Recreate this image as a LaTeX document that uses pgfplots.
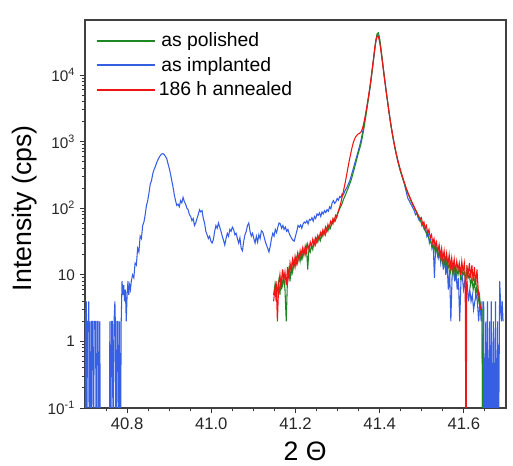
\documentclass[border=0pt]{standalone}
\usepackage{graphicx}
\usepackage{fontspec}
\setmainfont{Liberation Sans}
\usepackage{pgfplots}
\pgfplotsset{compat=1.18}
\definecolor{cgreen}{RGB}{30,135,35}
\definecolor{cblue}{RGB}{55,95,228}
\definecolor{cred}{RGB}{240,20,20}
\pgfplotsset{
  mylegimg/.style={legend image code/.code={\draw[##1] (0pt,0pt) -- (36pt,0pt); \path (0pt,0pt) -- (44pt,0pt);}},
}
\begin{document}
\begin{tikzpicture}
\begin{axis}[
  scale only axis,
  width=315.75pt, height=291pt,
  xmin=40.7, xmax=41.7,
  ymode=log, ymin=0.1, ymax=6.7e4,
  axis line style={black!75, line width=0.9pt},
  tick align=outside,
  xtick={40.8,41.0,41.2,41.4,41.6},
  minor xtick={40.75,40.85,40.9,40.95,41.05,41.1,41.15,41.25,41.3,41.35,41.45,41.5,41.55,41.65},
  xticklabels={40.8,41.0,41.2,41.4,41.6},
  ytick={0.1,1,10,100,1000,10000},
  yticklabels={10\textsuperscript{-1},1,10,10\textsuperscript{2},10\textsuperscript{3},10\textsuperscript{4}},
  xtick pos=bottom, ytick pos=left,
  major tick length=4pt, minor tick length=2.5pt,
  tick style={black!80, line width=0.7pt},
  xticklabel style={font=\fontsize{12.5}{14}\selectfont, text=black!85},
  yticklabel style={font=\fontsize{11.5}{13}\selectfont, text=black!85},
  xlabel={2 Θ},
  xlabel style={font=\fontsize{20}{24}\selectfont, at={(axis description cs:0.523,-0.111)}, anchor=center},
  ylabel={Intensity (cps)},
  ylabel style={font=\fontsize{20}{24}\selectfont, at={(axis description cs:-0.143,0.515)}, anchor=center},
  legend style={at={(axis description cs:0.015,0.982)}, anchor=north west, draw=none, fill=none,
    font=\fontsize{14.5}{16}\selectfont, row sep=2.5pt},
  legend cell align=left,
  mylegimg,
]
\addlegendimage{draw=cgreen, line width=1.4pt}
\addlegendentry{\hspace{2pt}as polished}
\addlegendimage{draw=cblue, line width=1.4pt}
\addlegendentry{\hspace{2pt}as implanted}
\addlegendimage{draw=cred, line width=1.4pt}
\addlegendentry{186 h annealed}

% as implanted
\addplot[cblue, line width=0.8pt, forget plot] table {
40.700 0.01
40.701 2
40.703 4
40.704 0.01
40.706 2
40.708 2
40.709 4
40.710 0.01
40.712 2
40.714 0.01
40.716 2
40.718 2
40.720 0.01
40.722 2
40.725 2
40.727 0.01
40.729 2
40.731 2
40.733 0.01
40.735 2
40.737 0.01
40.758 0.01
40.759 2
40.761 0.01
40.763 2
40.765 2
40.767 0.01
40.769 2
40.771 4
40.772 2
40.774 0.01
40.776 2
40.778 2
40.780 0.01
40.782 2
40.784 0.01
40.786 2
40.788 8
40.790 5
40.792 7
40.794 4
40.796 6
40.798 2
40.800 5
40.802 8
40.804 5
40.806 7
40.808 6
40.810 8
40.813 10
40.816 9
40.819 15
40.822 14
40.825 25
40.828 22
40.831 38
40.834 35
40.837 55
40.840 62
40.843 80
40.846 110
40.849 130
40.852 170
40.855 230
40.858 260
40.861 330
40.864 380
40.867 420
40.870 480
40.873 530
40.876 580
40.879 620
40.882 650
40.885 660
40.888 640
40.891 600
40.894 560
40.897 470
40.900 400
40.903 330
40.906 260
40.909 210
40.912 160
40.915 130
40.918 110
40.921 115
40.924 105
40.927 130
40.930 120
40.933 145
40.936 125
40.939 115
40.942 100
40.945 95
40.948 80
40.951 75
40.954 65
40.957 70
40.960 55
40.963 60
40.966 70
40.969 80
40.972 95
40.975 88
40.978 92
40.981 70
40.984 60
40.987 45
40.990 40
40.993 35
40.996 38
40.999 32
41.002 30
41.005 34
41.008 45
41.011 55
41.014 50
41.017 60
41.020 52
41.023 45
41.026 38
41.029 33
41.032 28
41.035 35
41.038 42
41.041 38
41.044 48
41.047 45
41.050 52
41.053 48
41.056 40
41.059 42
41.062 35
41.065 30
41.068 36
41.071 25
41.074 23
41.077 32
41.080 40
41.083 45
41.086 55
41.089 60
41.092 45
41.095 38
41.098 42
41.101 35
41.104 30
41.107 38
41.110 31
41.113 40
41.116 35
41.119 46
41.122 44
41.125 38
41.128 32
41.131 28
41.134 25
41.137 22
41.140 27
41.143 35
41.146 42
41.149 38
41.152 48
41.155 43
41.158 52
41.161 60
41.164 58
41.167 50
41.170 55
41.173 48
41.176 52
41.179 45
41.182 48
41.185 42
41.188 38
41.191 35
41.194 33
41.197 32
41.200 38
41.203 45
41.206 55
41.209 52
41.212 56
41.215 50
41.218 58
41.221 62
41.224 60
41.227 65
41.230 58
41.233 68
41.236 66
41.239 72
41.242 64
41.245 75
41.248 70
41.251 82
41.254 78
41.257 85
41.260 75
41.263 88
41.266 82
41.269 92
41.272 86
41.275 95
41.278 90
41.281 105
41.284 98
41.287 120
41.290 130
41.293 118
41.296 125
41.299 140
41.302 132
41.305 150
41.308 145
41.311 165
41.314 160
41.317 180
41.320 195
41.323 210
41.326 235
41.329 260
41.332 300
41.335 350
41.338 410
41.341 480
41.344 560
41.347 650
41.350 760
41.353 900
41.356 1080
41.359 1350
41.362 1700
41.365 2200
41.368 2900
41.371 3800
41.374 4900
41.377 6500
41.380 9000
41.383 13000
41.386 18000
41.389 26000
41.392 35000
41.395 40000
41.398 38000
41.401 30000
41.404 21000
41.407 15000
41.410 10500
41.413 7500
41.416 5300
41.419 3900
41.422 2800
41.425 2050
41.428 1550
41.431 1200
41.434 950
41.437 760
41.440 620
41.443 510
41.446 430
41.449 370
41.452 320
41.455 280
41.458 240
41.461 200
41.464 165
41.467 140
41.470 130
41.473 118
41.476 110
41.479 100
41.482 92
41.485 80
41.488 85
41.491 72
41.494 65
41.497 70
41.500 55
41.503 60
41.506 48
41.509 52
41.512 38
41.515 42
41.518 30
41.521 35
41.524 25
41.527 30
41.530 9
41.533 28
41.536 22
41.539 18
41.542 25
41.545 15
41.548 20
41.551 12
41.554 18
41.557 10
41.560 15
41.563 6
41.566 12
41.569 2
41.572 10
41.575 14
41.578 8
41.581 12
41.584 6
41.587 9
41.590 2
41.593 8
41.596 10
41.599 6
41.602 8
41.605 5
41.608 7
41.611 4
41.614 6
41.617 4
41.620 5
41.623 3
41.626 4
41.629 5
41.632 4
41.635 2
41.638 4
41.641 2
41.643 4
41.645 0.01
41.647 4
41.649 0.01
41.652 2
41.654 0.01
41.656 4
41.658 0.01
41.661 2
41.663 0.01
41.665 4
41.667 0.01
41.670 2
41.672 0.01
41.675 4
41.677 0.01
41.680 2
41.682 0.01
41.685 8
41.687 4
41.689 2
41.691 4
41.693 2
};

% as polished
\addplot[cgreen, line width=0.8pt, forget plot] table {
41.148 5
41.151 7
41.154 4
41.157 6
41.160 8
41.163 5
41.166 9
41.169 7
41.172 10
41.175 6
41.178 2
41.181 9
41.184 12
41.187 8
41.190 14
41.193 11
41.196 16
41.199 13
41.202 18
41.205 15
41.208 20
41.211 16
41.214 22
41.217 18
41.220 24
41.223 20
41.226 26
41.229 12
41.232 25
41.235 22
41.238 28
41.241 24
41.244 32
41.247 28
41.250 35
41.253 31
41.256 38
41.259 33
41.262 42
41.265 38
41.268 46
41.271 40
41.274 50
41.277 45
41.280 55
41.283 50
41.286 62
41.289 58
41.292 70
41.295 65
41.298 78
41.301 85
41.304 95
41.307 105
41.310 115
41.313 130
41.316 145
41.319 160
41.322 180
41.325 200
41.328 225
41.331 250
41.334 290
41.337 340
41.340 400
41.343 470
41.346 560
41.349 660
41.352 770
41.355 900
41.358 1100
41.361 1400
41.364 1800
41.367 2400
41.370 3200
41.373 4300
41.376 5800
41.379 8000
41.382 11500
41.385 16500
41.388 24000
41.391 34000
41.394 42000
41.397 43000
41.400 35000
41.403 25000
41.406 17500
41.409 12000
41.412 8500
41.415 6000
41.418 4300
41.421 3100
41.424 2300
41.427 1700
41.430 1300
41.433 1020
41.436 810
41.439 660
41.442 540
41.445 450
41.448 380
41.451 330
41.454 285
41.457 250
41.460 220
41.463 195
41.466 170
41.469 155
41.472 140
41.475 125
41.478 115
41.481 105
41.484 95
41.487 88
41.490 80
41.493 72
41.496 68
41.499 60
41.502 56
41.505 50
41.508 46
41.511 42
41.514 38
41.517 35
41.520 32
41.523 29
41.526 26
41.529 28
41.532 22
41.535 25
41.538 19
41.541 22
41.544 17
41.547 20
41.550 15
41.553 18
41.556 13
41.559 16
41.562 12
41.565 15
41.568 11
41.571 14
41.574 10
41.577 13
41.580 9
41.583 12
41.586 10
41.589 13
41.592 9
41.595 12
41.598 10
41.601 11
41.604 8
41.607 12
41.610 9
41.613 10
41.616 7
41.619 9
41.622 6
41.625 8
41.628 5
41.631 7
41.634 4
41.637 5
41.640 3
41.643 3
41.645 0.01
};

% 186 h annealed
\addplot[cred, line width=0.8pt, forget plot] table {
41.148 4
41.151 6
41.154 8
41.157 2
41.160 7
41.163 10
41.166 6
41.169 12
41.172 8
41.175 11
41.178 7
41.181 13
41.184 9
41.187 15
41.190 11
41.193 17
41.196 13
41.199 19
41.202 15
41.205 21
41.208 17
41.211 23
41.214 18
41.217 25
41.220 20
41.223 27
41.226 22
41.229 29
41.232 24
41.235 31
41.238 26
41.241 34
41.244 28
41.247 36
41.250 31
41.253 39
41.256 34
41.259 43
41.262 37
41.265 47
41.268 41
41.271 52
41.274 45
41.277 57
41.280 50
41.283 63
41.286 56
41.289 70
41.292 64
41.295 78
41.298 72
41.301 88
41.304 100
41.307 115
41.310 140
41.313 170
41.316 210
41.319 260
41.322 330
41.325 420
41.328 530
41.331 650
41.334 800
41.337 950
41.340 1080
41.343 1180
41.346 1250
41.349 1300
41.352 1330
41.355 1380
41.358 1500
41.361 1750
41.364 2150
41.367 2700
41.370 3500
41.373 4600
41.376 6200
41.379 8500
41.382 12000
41.385 17000
41.388 25000
41.391 33000
41.394 38000
41.397 37500
41.400 31000
41.403 23000
41.406 16500
41.409 11500
41.412 8200
41.415 5900
41.418 4300
41.421 3100
41.424 2300
41.427 1750
41.430 1350
41.433 1050
41.436 840
41.439 680
41.442 560
41.445 470
41.448 400
41.451 345
41.454 300
41.457 260
41.460 230
41.463 200
41.466 180
41.469 160
41.472 145
41.475 130
41.478 118
41.481 108
41.484 98
41.487 90
41.490 82
41.493 76
41.496 68
41.499 72
41.502 58
41.505 62
41.508 50
41.511 55
41.514 42
41.517 48
41.520 36
41.523 40
41.526 30
41.529 35
41.532 26
41.535 31
41.538 22
41.541 28
41.544 19
41.547 25
41.550 17
41.553 23
41.556 15
41.559 21
41.562 14
41.565 20
41.568 13
41.571 18
41.574 12
41.577 17
41.580 11
41.583 16
41.586 12
41.589 15
41.592 10
41.595 16
41.598 11
41.601 15
41.603 10
41.605 0.01
41.607 14
41.610 10
41.613 15
41.616 9
41.619 14
41.622 8
41.625 13
41.628 7
41.631 12
41.634 6
41.637 4
41.640 3
};
\end{axis}
\pgfresetboundingbox
\path[use as bounding box] (-63.75pt,-43.5pt) rectangle (321pt,306pt);
\end{tikzpicture}
\end{document}
